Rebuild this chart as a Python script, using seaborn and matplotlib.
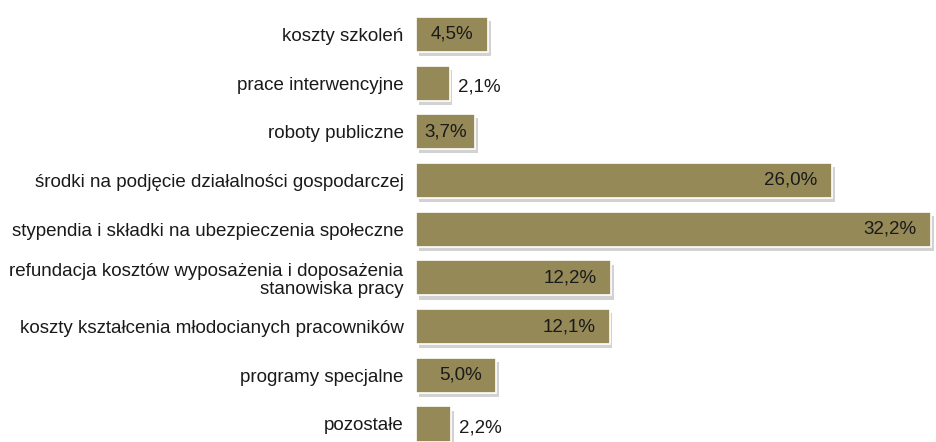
import matplotlib
matplotlib.use("Agg")
import matplotlib.pyplot as plt
import matplotlib.patheffects as pe
import seaborn as sns
import pandas as pd

categories = [
    "koszty szkoleń",
    "prace interwencyjne",
    "roboty publiczne",
    "środki na podjęcie działalności gospodarczej",
    "stypendia i składki na ubezpieczenia społeczne",
    "refundacja kosztów wyposażenia i doposażenia\nstanowiska pracy",
    "koszty kształcenia młodocianych pracowników",
    "programy specjalne",
    "pozostałe",
]
values = [4.5, 2.1, 3.7, 26.0, 32.2, 12.2, 12.1, 5.0, 2.2]
value_labels = ["4,5%", "2,1%", "3,7%", "26,0%", "32,2%", "12,2%", "12,1%", "5,0%", "2,2%"]

df = pd.DataFrame({"cat": categories, "val": values})

sns.set_theme(style="white")
plt.rcParams["font.family"] = ["Liberation Sans", "DejaVu Sans"]

fig = plt.figure(figsize=(9.36, 4.42), dpi=100)
ax = fig.add_axes([416 / 936, 0.0, 520 / 936, (442 - 10) / 442])

color = "#958957"
sns.barplot(data=df, x="val", y="cat", orient="h", color=color, saturation=1,
            width=0.72, ax=ax, edgecolor="white", linewidth=1.2)

for p in ax.patches:
    p.set_path_effects([pe.SimplePatchShadow(offset=(2, -3), shadow_rgbFace="#b5b5b5", alpha=0.6),
                        pe.Normal()])

fs = 13.5
for i, (v, lab) in enumerate(zip(values, value_labels)):
    if v < 3:
        ax.text(v + 0.5, i + 0.08, lab, ha="left", va="center", fontsize=fs, color="#1a1a1a")
    elif v < 4:
        ax.text(v / 2, i, lab, ha="center", va="center", fontsize=fs, color="#1a1a1a")
    else:
        ax.text(v - 0.9, i, lab, ha="right", va="center", fontsize=fs, color="#1a1a1a")

ax.set_xlim(0, 32.5)
ax.set_ylim(8.37, -0.5)
ax.set_xlabel("")
ax.set_ylabel("")
ax.set_xticks([])
ax.tick_params(axis="y", length=0, pad=9, labelsize=fs, labelcolor="#1a1a1a")
for lbl in ax.get_yticklabels():
    lbl.set_multialignment("right")
    lbl.set_linespacing(1.1)
for s in ax.spines.values():
    s.set_visible(False)

fig.savefig("out.png", dpi=100)
